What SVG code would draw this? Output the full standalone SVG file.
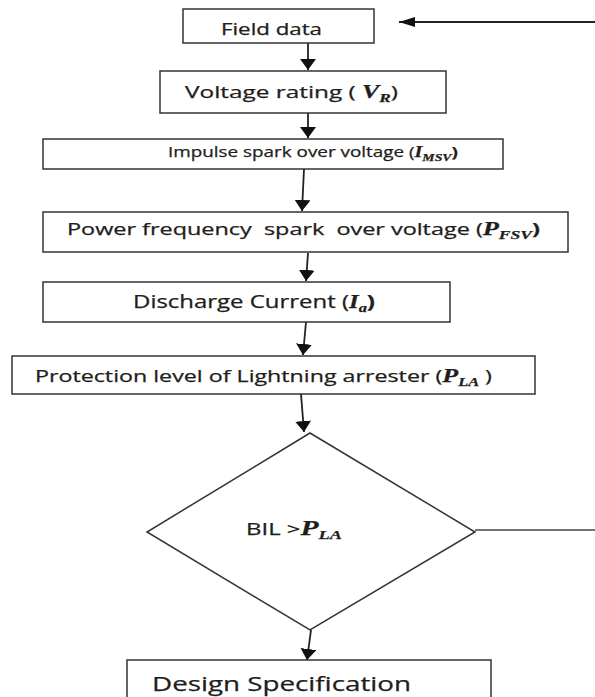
<svg xmlns="http://www.w3.org/2000/svg" width="595" height="697" viewBox="0 0 595 697">
<style>
.box{fill:#fff;stroke:#333;stroke-width:1.5}
.t{font-family:"Open Sans","Liberation Sans",sans-serif;fill:#221d1a;stroke:#221d1a;stroke-width:0.25}
.m{font-family:"Liberation Serif",serif;font-weight:bold;font-style:italic}
.c{stroke:#222;stroke-width:1.8;fill:none}
.l{stroke:#444;stroke-width:1.3;fill:none}
</style>
<defs>
<marker id="ah" viewBox="0 0 11 16" refX="11" refY="8" markerWidth="11" markerHeight="16" markerUnits="userSpaceOnUse" orient="auto">
<path d="M0,0 L11,8 L0,16 z" fill="#111"/>
</marker>
<marker id="ahh" viewBox="0 0 16 10" refX="16" refY="5" markerWidth="16" markerHeight="10" markerUnits="userSpaceOnUse" orient="auto">
<path d="M0,0 L16,5 L0,10 z" fill="#111"/>
</marker>
</defs>
<rect width="595" height="697" fill="#fff"/>
<g id="connectors">
<line class="c" x1="595" y1="22" x2="399" y2="22" marker-end="url(#ahh)"/>
<line class="c" x1="308" y1="43" x2="308" y2="70" marker-end="url(#ah)"/>
<line class="c" x1="308" y1="113" x2="308" y2="138" marker-end="url(#ah)"/>
<line class="c" x1="304" y1="169" x2="302" y2="211" marker-end="url(#ah)"/>
<line class="c" x1="308" y1="253" x2="306" y2="281" marker-end="url(#ah)"/>
<line class="c" x1="306" y1="322" x2="303" y2="355" marker-end="url(#ah)"/>
<line class="c" x1="301" y1="394" x2="304" y2="432" marker-end="url(#ah)"/>
<line class="l" x1="475" y1="530" x2="595" y2="530"/>
<line class="c" x1="311" y1="630" x2="307" y2="660" marker-end="url(#ah)"/>
</g>
<g id="field-data">
<rect class="box" x="183" y="9" width="191" height="34"/>
<text class="t" x="221" y="35" font-size="15.5" textLength="101" lengthAdjust="spacingAndGlyphs">Field data</text>
</g>
<g id="voltage-rating">
<rect class="box" x="160" y="71" width="286" height="42"/>
<text class="t" x="185" y="98" font-size="17" textLength="213" lengthAdjust="spacingAndGlyphs">Voltage rating ( <tspan class="m" font-size="18">V</tspan><tspan class="m" font-size="12" dy="4">R</tspan><tspan dy="-4">)</tspan></text>
</g>
<g id="impulse">
<rect class="box" x="43" y="139" width="460" height="30"/>
<text class="t" x="168" y="157" font-size="15" textLength="290" lengthAdjust="spacingAndGlyphs">Impulse spark over voltage (<tspan class="m" font-size="16">I</tspan><tspan class="m" font-size="11" dy="4">MSV</tspan><tspan dy="-4" font-weight="bold">)</tspan></text>
</g>
<g id="power-frequency">
<rect class="box" x="43" y="212" width="525" height="40"/>
<text class="t" x="67" y="235" font-size="16" textLength="473" lengthAdjust="spacingAndGlyphs" xml:space="preserve">Power frequency  spark  over voltage (<tspan class="m" font-size="18">P</tspan><tspan class="m" font-size="12" dy="4">FSV</tspan><tspan dy="-4" font-weight="bold">)</tspan></text>
</g>
<g id="discharge-current">
<rect class="box" x="43" y="282" width="407" height="40"/>
<text class="t" x="133" y="308" font-size="17.5" textLength="242" lengthAdjust="spacingAndGlyphs">Discharge Current (<tspan class="m" font-size="18">I</tspan><tspan class="m" font-size="12" dy="4">a</tspan><tspan dy="-4" font-weight="bold">)</tspan></text>
</g>
<g id="protection-level">
<rect class="box" x="12" y="356" width="523" height="38"/>
<text class="t" x="35" y="382" font-size="17" textLength="457" lengthAdjust="spacingAndGlyphs">Protection level of Lightning arrester (<tspan class="m" font-size="19">P</tspan><tspan class="m" font-size="12" dy="4">LA</tspan><tspan dy="-4"> )</tspan></text>
</g>
<g id="decision">
<polygon class="box" points="310,433 475,532 310,630 147,532"/>
<text class="t" x="246" y="535" font-size="17" textLength="96" lengthAdjust="spacingAndGlyphs">BIL &gt;<tspan class="m" font-size="21">P</tspan><tspan class="m" font-size="13" dy="4">LA</tspan></text>
</g>
<g id="design-specification">
<rect class="box" x="127" y="660" width="364" height="50"/>
<text class="t" x="152" y="691" font-size="20" textLength="259" lengthAdjust="spacingAndGlyphs">Design Specification</text>
</g>
</svg>
